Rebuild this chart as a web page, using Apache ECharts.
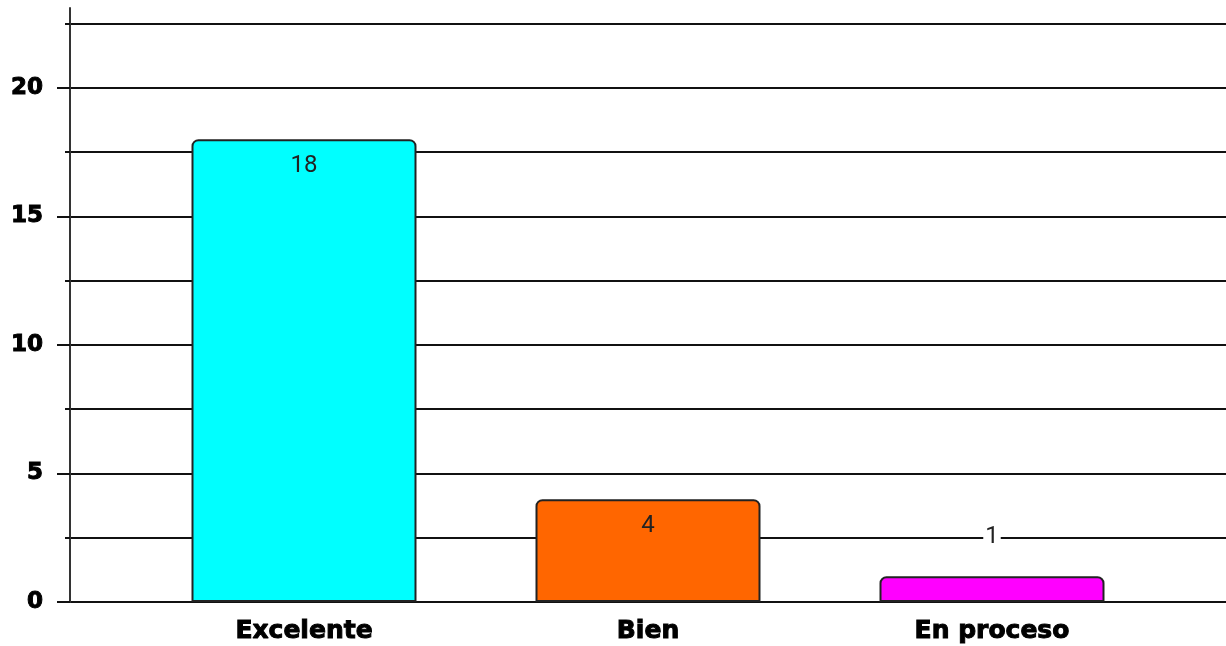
<!DOCTYPE html>
<html><head><meta charset="utf-8">
<script src="https://cdn.jsdelivr.net/npm/echarts@6/dist/echarts.min.js"></script>
<style>html,body{margin:0;padding:0;background:#fff}#c{width:1226px;height:646px}</style>
</head><body><div id="c"></div>
<script>
const categories = ['Excelente', 'Bien', 'En proceso'];
const values = [18, 4, 1];
const colors = ['#00FFFF', '#FF6600', '#FF00FF'];
const yMajorTicks = [0, 5, 10, 15, 20];
const yMinorTicks = [2.5, 7.5, 12.5, 17.5, 22.5];
const yMax = 23.1;

const chart = echarts.init(document.getElementById('c'), null, {renderer: 'canvas'});
const gridLine = {color: '#111', width: 2};
const option = {
  animation: false,
  backgroundColor: '#fff',
  grid: [
    {left: 70, right: 0, top: 8, bottom: 44},
    {left: 132, width: 1032, top: 8, bottom: 44}
  ],
  xAxis: [
    {gridIndex: 0, type: 'category', show: false, data: ['a']},
    {
      gridIndex: 1, type: 'category', data: categories,
      axisLine: {show: false}, axisTick: {show: false},
      axisLabel: {fontFamily: 'DejaVu Sans', fontWeight: 'bold', fontSize: 25, color: '#000',
        textBorderColor: '#000', textBorderWidth: 1, margin: 17}
    }
  ],
  yAxis: [
    {
      gridIndex: 0, type: 'value', position: 'left', min: 0, max: yMax, interval: 2.5,
      axisLine: {show: true, lineStyle: {color: '#333', width: 2}},
      axisTick: {show: true, customValues: yMajorTicks, length: 13, lineStyle: gridLine},
      axisLabel: {customValues: yMajorTicks, fontFamily: 'DejaVu Sans', fontWeight: 'bold', fontSize: 23,
        color: '#000', textBorderColor: '#000', textBorderWidth: 1, margin: 27},
      splitLine: {show: true, lineStyle: gridLine}
    },
    {
      gridIndex: 0, type: 'value', position: 'left', offset: 0, min: 0, max: yMax, interval: 2.5,
      axisLine: {show: false},
      axisTick: {show: true, customValues: yMinorTicks, length: 5, lineStyle: gridLine},
      axisLabel: {show: false},
      splitLine: {show: true, lineStyle: gridLine}
    },
    {gridIndex: 1, type: 'value', min: 0, max: yMax, show: false, splitLine: {show: false}}
  ],
  series: [{
    type: 'bar', xAxisIndex: 1, yAxisIndex: 2, barWidth: 225,
    data: values.map((v, i) => ({
      value: v,
      itemStyle: {color: colors[i], borderColor: '#222', borderWidth: 2, borderRadius: [6, 6, 0, 0]},
      label: v < 2
        ? {position: 'top', distance: 27, backgroundColor: '#fff', padding: [0, 2]}
        : {position: 'insideTop', distance: 15}
    })),
    label: {show: true, fontFamily: 'Roboto', fontSize: 24, color: '#222'}
  }]
};
chart.setOption(option);
</script>
</body></html>
